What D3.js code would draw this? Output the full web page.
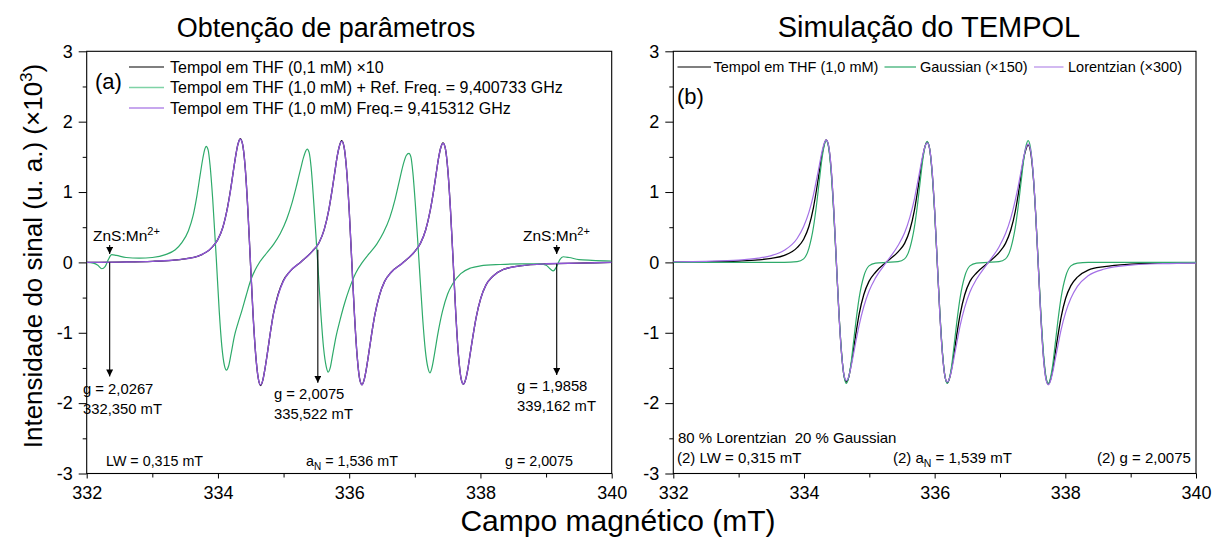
<!DOCTYPE html>
<html><head><meta charset="utf-8">
<script src="https://cdn.jsdelivr.net/npm/d3@7"></script>
<style>body{margin:0;background:#fff} svg{display:block} text{font-family:"Liberation Sans",Arial,sans-serif;fill:#000}</style>
</head><body><svg id="c" width="1213" height="538"></svg>
<script>
// ---------- DATA ----------
const xTicks = [332, 334, 336, 338, 340];
const xMinor = [333, 335, 337, 339];
const yTicks = [-3, -2, -1, 0, 1, 2, 3];
const yMinor = [-2.5, -1.5, -0.5, 0.5, 1.5, 2.5];

// shared field grid (mT) for black / purple traces
const fieldGrid = [332.0, 332.5, 333.0, 333.3, 333.5, 333.7,
 333.895, 333.995, 334.075, 334.145, 334.195, 334.235, 334.275, 334.305, 334.34, 334.375, 334.415, 334.455, 334.495, 334.535, 334.575, 334.615, 334.65, 334.685, 334.715, 334.755, 334.795, 334.845, 334.915, 334.995, 335.095,
 335.268,
 335.44, 335.54, 335.62, 335.69, 335.74, 335.78, 335.82, 335.85, 335.885, 335.92, 335.96, 336.0, 336.04, 336.08, 336.12, 336.16, 336.195, 336.23, 336.26, 336.3, 336.34, 336.39, 336.46, 336.54, 336.64,
 336.813,
 336.985, 337.085, 337.165, 337.235, 337.285, 337.325, 337.365, 337.395, 337.43, 337.465, 337.505, 337.545, 337.585, 337.625, 337.665, 337.705, 337.74, 337.775, 337.805, 337.845, 337.885, 337.935, 338.005, 338.085, 338.185,
 338.35, 338.6, 339.0, 339.5, 340.0];

// panel (a): Tempol em THF (0,1 mM) x10
const blackA = [0.0, 0.005, 0.015, 0.03, 0.05, 0.09,
 0.20, 0.32, 0.50, 0.78, 1.05, 1.30, 1.54, 1.68, 1.76, 1.68, 1.35, 0.76, 0.0, -0.74, -1.31, -1.65, -1.75, -1.67, -1.52, -1.28, -1.02, -0.73, -0.46, -0.26, -0.13,
 0.01,
 0.16, 0.28, 0.47, 0.75, 1.03, 1.28, 1.52, 1.65, 1.73, 1.65, 1.32, 0.74, 0.0, -0.74, -1.32, -1.66, -1.74, -1.66, -1.52, -1.28, -1.03, -0.75, -0.47, -0.27, -0.14,
 -0.01,
 0.14, 0.27, 0.46, 0.74, 1.01, 1.26, 1.50, 1.63, 1.70, 1.62, 1.29, 0.72, 0.0, -0.74, -1.32, -1.65, -1.73, -1.66, -1.53, -1.29, -1.05, -0.78, -0.51, -0.32, -0.20,
 -0.10, -0.05, -0.02, -0.01, 0.0];

// panel (a): Tempol em THF (1,0 mM) Freq.= 9,415312 GHz
const purpleA = [0.0, 0.004, 0.014, 0.03, 0.05, 0.09,
 0.20, 0.32, 0.50, 0.77, 1.04, 1.30, 1.54, 1.68, 1.75, 1.68, 1.35, 0.76, 0.01, -0.74, -1.31, -1.65, -1.74, -1.67, -1.52, -1.28, -1.02, -0.74, -0.47, -0.27, -0.13,
 0.01,
 0.16, 0.28, 0.47, 0.75, 1.03, 1.28, 1.52, 1.65, 1.72, 1.65, 1.32, 0.74, 0.0, -0.74, -1.32, -1.66, -1.74, -1.66, -1.52, -1.28, -1.03, -0.75, -0.47, -0.27, -0.14,
 -0.01,
 0.14, 0.27, 0.46, 0.74, 1.01, 1.26, 1.50, 1.63, 1.69, 1.62, 1.29, 0.72, 0.0, -0.74, -1.32, -1.65, -1.73, -1.66, -1.53, -1.29, -1.05, -0.78, -0.51, -0.32, -0.20,
 -0.10, -0.05, -0.02, -0.01, 0.0];

// panel (a): Tempol em THF (1,0 mM) + Ref. (own field grid)
const fieldGreenA = [332.0, 332.1, 332.17, 332.23, 332.28, 332.33, 332.38, 332.45, 332.6, 332.8, 333.0, 333.2, 333.35, 333.45, 333.55, 333.62, 333.68, 333.73, 333.77, 333.8, 333.82, 333.85, 333.88, 333.92, 333.975,
 334.02, 334.06, 334.1, 334.13, 334.16, 334.2, 334.25, 334.3, 334.36, 334.43, 334.5, 334.6, 334.74, 334.85, 334.95, 335.05, 335.13, 335.2, 335.26, 335.31, 335.36, 335.39, 335.42, 335.46, 335.52,
 335.57, 335.61, 335.65, 335.68, 335.71, 335.75, 335.8, 335.86, 335.93, 336.0, 336.1, 336.2, 336.3, 336.42, 336.52, 336.62, 336.7, 336.76, 336.82, 336.87, 336.91, 336.94, 336.97, 337.01, 337.065,
 337.12, 337.16, 337.2, 337.23, 337.26, 337.3, 337.35, 337.42, 337.5, 337.58, 337.7, 337.85, 338.0, 338.3, 338.6, 338.9, 339.0, 339.06, 339.11, 339.16, 339.21, 339.26, 339.35, 339.5, 339.7, 340.0];
const greenA = [0.0, -0.01, -0.04, -0.09, -0.06, 0.04, 0.11, 0.1, 0.07, 0.06, 0.07, 0.11, 0.18, 0.28, 0.45, 0.66, 0.95, 1.25, 1.48, 1.61, 1.65, 1.6, 1.38, 0.9, 0.05,
 -0.7, -1.2, -1.47, -1.53, -1.48, -1.3, -1.05, -0.88, -0.7, -0.47, -0.25, -0.05, 0.13, 0.26, 0.41, 0.62, 0.85, 1.1, 1.33, 1.51, 1.61, 1.56, 1.35, 0.85, 0.0,
 -0.75, -1.22, -1.48, -1.56, -1.5, -1.3, -1.05, -0.82, -0.58, -0.38, -0.15, 0.0, 0.12, 0.26, 0.42, 0.64, 0.9, 1.14, 1.38, 1.52, 1.55, 1.5, 1.28, 0.8, 0.0,
 -0.8, -1.25, -1.5, -1.57, -1.5, -1.3, -1.02, -0.7, -0.45, -0.3, -0.16, -0.08, -0.05, -0.03, -0.02, -0.02, -0.04, -0.09, -0.12, -0.06, 0.04, 0.08, 0.07, 0.04, 0.03, 0.02];

// panel (b)
const blackB = [0.005, 0.009, 0.02, 0.036, 0.058, 0.10,
 0.21, 0.33, 0.51, 0.78, 1.05, 1.29, 1.53, 1.66, 1.74, 1.66, 1.33, 0.75, 0.02, -0.72, -1.29, -1.62, -1.70, -1.63, -1.49, -1.26, -1.01, -0.73, -0.46, -0.27, -0.14,
 0.01,
 0.15, 0.27, 0.46, 0.74, 1.02, 1.27, 1.51, 1.64, 1.71, 1.63, 1.30, 0.73, 0.0, -0.73, -1.30, -1.63, -1.71, -1.64, -1.51, -1.27, -1.02, -0.74, -0.46, -0.27, -0.15,
 -0.01,
 0.14, 0.27, 0.46, 0.73, 1.0, 1.25, 1.49, 1.60, 1.67, 1.59, 1.27, 0.71, -0.02, -0.75, -1.33, -1.65, -1.73, -1.66, -1.53, -1.29, -1.05, -0.78, -0.51, -0.33, -0.21,
 -0.11, -0.06, -0.025, -0.01, -0.005];
const greenB = [0, 0, 0, 0, 0, 0,
 0.01, 0.05, 0.20, 0.50, 0.84, 1.16, 1.47, 1.64, 1.73, 1.64, 1.29, 0.71, 0, -0.71, -1.28, -1.63, -1.72, -1.63, -1.47, -1.16, -0.84, -0.50, -0.20, -0.05, -0.01,
 0,
 0.01, 0.05, 0.20, 0.50, 0.84, 1.16, 1.47, 1.63, 1.72, 1.63, 1.28, 0.71, 0, -0.71, -1.28, -1.63, -1.72, -1.63, -1.47, -1.16, -0.84, -0.50, -0.20, -0.05, -0.01,
 0,
 0.01, 0.05, 0.20, 0.50, 0.84, 1.16, 1.47, 1.64, 1.73, 1.64, 1.29, 0.71, 0, -0.71, -1.28, -1.63, -1.72, -1.63, -1.47, -1.16, -0.84, -0.50, -0.20, -0.05, -0.01,
 0, 0, 0, 0, 0];
const purpleB = [0.009, 0.015, 0.031, 0.060, 0.097, 0.173,
 0.34, 0.51, 0.71, 0.96, 1.19, 1.38, 1.57, 1.68, 1.74, 1.67, 1.36, 0.78, 0.03, -0.73, -1.30, -1.61, -1.68, -1.62, -1.51, -1.32, -1.12, -0.89, -0.63, -0.41, -0.22,
 0.01,
 0.24, 0.42, 0.64, 0.90, 1.14, 1.34, 1.53, 1.64, 1.70, 1.63, 1.32, 0.75, 0, -0.75, -1.32, -1.63, -1.70, -1.64, -1.53, -1.34, -1.14, -0.90, -0.64, -0.42, -0.24,
 -0.01,
 0.22, 0.41, 0.63, 0.89, 1.11, 1.31, 1.51, 1.62, 1.68, 1.61, 1.30, 0.72, -0.03, -0.78, -1.36, -1.67, -1.74, -1.68, -1.57, -1.38, -1.19, -0.96, -0.71, -0.51, -0.34,
 -0.19, -0.094, -0.038, -0.017, -0.009];

const legendA = ["Tempol em THF (0,1 mM) ×10", "Tempol em THF (1,0 mM) + Ref. Freq. = 9,400733 GHz", "Tempol em THF (1,0 mM) Freq.= 9,415312 GHz"];
const legendB = ["Tempol em THF (1,0 mM)", "Gaussian (×150)", "Lorentzian (×300)"];
const gMarkers = [
  {field: 332.350, g: "g = 2,0267", b: "332,350 mT"},
  {field: 335.522, g: "g = 2,0075", b: "335,522 mT"},
  {field: 339.162, g: "g = 1,9858", b: "339,162 mT"}];
const znsMarkers = [332.350, 339.162];

// ---------- DRAWING ----------
const COL = {black: "#000000", green: "#2eaa6a", purple: "#8f55d6", purpleB: "#a470e6", greenLeg: "#7fd3a6", purpleLeg: "#b48ae8"};
const FONT = "'Liberation Sans', Arial, sans-serif";
const svg = d3.select("#c");
const defs = svg.append("defs");
defs.append("marker").attr("id", "arr").attr("viewBox", "0 0 10 10").attr("refX", 10).attr("refY", 5)
  .attr("markerWidth", 7).attr("markerHeight", 7).attr("markerUnits", "userSpaceOnUse").attr("orient", "auto")
  .append("path").attr("d", "M0,0 L10,5 L0,10 z").attr("fill", "#000");

const TOP = 51.3, BOT = 473.5;

function panel(x0, x1, clipId) {
  const x = d3.scaleLinear().domain([332, 340]).range([x0, x1]);
  const y = d3.scaleLinear().domain([-3, 3]).range([BOT, TOP]);
  defs.append("clipPath").attr("id", clipId).append("rect")
    .attr("x", x0).attr("y", TOP).attr("width", x1 - x0).attr("height", BOT - TOP);
  const g = svg.append("g");
  g.append("g").attr("transform", `translate(0,${BOT})`)
    .call(d3.axisBottom(x).tickValues(xTicks).tickSize(5).tickSizeOuter(0).tickPadding(8).tickFormat(d3.format("d")));
  g.append("g").attr("transform", `translate(0,${BOT})`)
    .call(d3.axisBottom(x).tickValues(xMinor).tickSize(4).tickSizeOuter(0).tickFormat(""));
  g.append("g").attr("transform", `translate(${x0},0)`)
    .call(d3.axisLeft(y).tickValues(yTicks).tickSize(8).tickSizeOuter(0).tickPadding(6).tickFormat(d => d3.format("d")(d).replace("−", "-")));
  g.append("g").attr("transform", `translate(${x0},0)`)
    .call(d3.axisLeft(y).tickValues(yMinor).tickSize(4).tickSizeOuter(0).tickFormat(""));
  g.selectAll(".domain").remove();
  g.selectAll(".tick line").attr("stroke", "#000").attr("stroke-width", 1);
  g.selectAll(".tick text").attr("font-size", 18).attr("font-family", FONT).attr("fill", "#000");
  g.append("rect").attr("x", x0).attr("y", TOP).attr("width", x1 - x0).attr("height", BOT - TOP)
    .attr("fill", "none").attr("stroke", "#000").attr("stroke-width", 1.1);
  const plot = svg.append("g").attr("clip-path", `url(#${clipId})`);
  return {x, y, g, plot};
}

function trace(P, xs, ys, color, w) {
  const line = d3.line().x((d, i) => P.x(xs[i])).y(d => P.y(d)).curve(d3.curveMonotoneX);
  P.plot.append("path").attr("d", line(ys)).attr("fill", "none").attr("stroke", color)
    .attr("stroke-width", w).attr("stroke-linejoin", "round");
}

function txt(parent, x, y, s, size, anchor) {
  return parent.append("text").attr("x", x).attr("y", y).attr("font-size", size)
    .attr("text-anchor", anchor || "start").text(s);
}

// ---- panel (a)
const A = panel(86.7, 611.7, "clipA");
trace(A, fieldGrid, blackA, COL.black, 1.3);
trace(A, fieldGreenA, greenA, COL.green, 1.2);
trace(A, fieldGrid, purpleA, COL.purple, 1.4);

txt(svg, 95, 89, "(a)", 22);
const legColA = [COL.black, COL.greenLeg, COL.purpleLeg];
legendA.forEach((s, i) => {
  const yy = 67 + i * 20.5;
  svg.append("line").attr("x1", 129).attr("x2", 164).attr("y1", yy).attr("y2", yy)
    .attr("stroke", legColA[i]).attr("stroke-width", i === 0 ? 1.2 : 1.6);
  txt(svg, 170, yy + 5.5, s, 16);
});

const arrowStart = [0.0, 0.18, -0.02];
const arrowEnd = [-1.62, -1.71, -1.6];
const labelY = [394, 399, 391];
const labelX = [83, 274, 517];
gMarkers.forEach((m, i) => {
  const xx = A.x(m.field);
  svg.append("line").attr("x1", xx).attr("x2", xx).attr("y1", A.y(arrowStart[i])).attr("y2", A.y(arrowEnd[i]))
    .attr("stroke", "#000").attr("stroke-width", 1.1).attr("marker-end", "url(#arr)");
  txt(svg, labelX[i], labelY[i], m.g, 14.8);
  txt(svg, labelX[i], labelY[i] + 19.5, m.b, 14.8);
});
const znsLabelX = [93, 523];
znsMarkers.forEach((f, i) => {
  const xx = A.x(f);
  const t = svg.append("text").attr("x", znsLabelX[i]).attr("y", 241).attr("font-size", 15.5);
  t.append("tspan").text("ZnS:Mn");
  t.append("tspan").attr("dy", -6).attr("font-size", 11).text("2+");
  svg.append("line").attr("x1", xx).attr("x2", xx).attr("y1", 245).attr("y2", 254)
    .attr("stroke", "#000").attr("stroke-width", 1.1).attr("marker-end", "url(#arr)");
});
txt(svg, 106, 466, "LW = 0,315 mT", 14.3);
{
  const t = svg.append("text").attr("x", 306).attr("y", 466).attr("font-size", 14.3);
  t.append("tspan").text("a");
  t.append("tspan").attr("dy", 4).attr("font-size", 10).text("N");
  t.append("tspan").attr("dy", -4).text(" = 1,536 mT");
}
txt(svg, 505, 466, "g = 2,0075", 14.3);

// ---- panel (b)
const B = panel(673.3, 1196, "clipB");
trace(B, fieldGrid, blackB, COL.black, 1.3);
trace(B, fieldGrid, greenB, COL.green, 1.2);
trace(B, fieldGrid, purpleB, COL.purpleB, 1.2);

const legColB = [COL.black, COL.green, COL.purpleLeg];
const legXB = [[677.5, 711, 713.5], [884.5, 916, 920], [1034, 1063.5, 1068]];
legendB.forEach((s, i) => {
  const yy = 67;
  svg.append("line").attr("x1", legXB[i][0]).attr("x2", legXB[i][1]).attr("y1", yy).attr("y2", yy)
    .attr("stroke", legColB[i]).attr("stroke-width", 1.2);
  txt(svg, legXB[i][2], yy + 5, s, 14.5);
});
txt(svg, 677, 104, "(b)", 22);
txt(svg, 678, 443, "80 % Lorentzian\u00a0\u00a020 % Gaussian", 15);
txt(svg, 677, 463, "(2) LW = 0,315 mT", 15);
{
  const t = svg.append("text").attr("x", 893).attr("y", 463).attr("font-size", 15);
  t.append("tspan").text("(2) a");
  t.append("tspan").attr("dy", 4).attr("font-size", 10.5).text("N");
  t.append("tspan").attr("dy", -4).text(" = 1,539 mT");
}
txt(svg, 1097, 463, "(2) g = 2,0075", 15);

// ---- titles
txt(svg, 326, 37, "Obtenção de parâmetros", 27, "middle");
txt(svg, 929, 37, "Simulação do TEMPOL", 29, "middle");
txt(svg, 618, 531, "Campo magnético (mT)", 30, "middle");
{
  const t = svg.append("text").attr("transform", "translate(42,256) rotate(-90)").attr("font-size", 26).attr("text-anchor", "middle");
  t.append("tspan").text("Intensidade do sinal (u. a.) (×10");
  t.append("tspan").attr("dy", -10).attr("font-size", 17).text("3");
  t.append("tspan").attr("dy", 10).text(")");
}
</script></body></html>
